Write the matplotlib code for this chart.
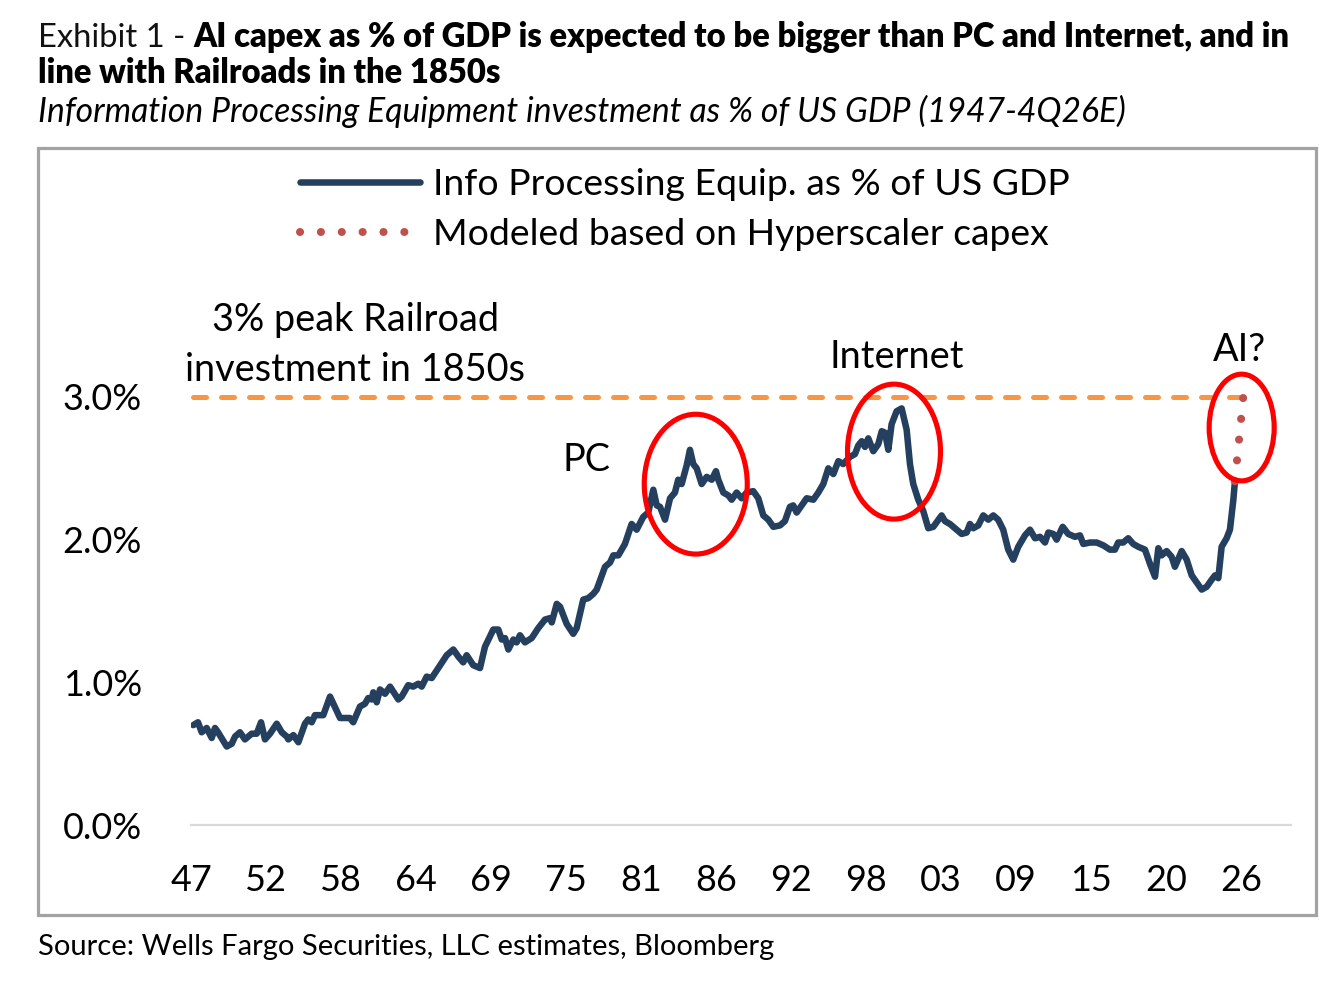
import numpy as np
import matplotlib
matplotlib.use('Agg')
import matplotlib.pyplot as plt
from matplotlib.patches import Ellipse, Rectangle

# ---------------- data ----------------
years = [1947.17, 1947.53, 1947.81, 1948.19, 1948.57, 1948.82, 1949.05, 1949.71, 1950.09, 1950.34,
         1950.71, 1951.09, 1951.60, 1951.98, 1952.31, 1952.61, 1952.99, 1953.50, 1953.88, 1954.26,
         1954.38, 1954.76, 1955.14, 1955.64, 1955.89, 1956.15, 1956.40, 1957.03, 1957.54, 1958.30,
         1959.05, 1959.30, 1959.81, 1960.19, 1960.44, 1960.70, 1960.82, 1961.08, 1961.33, 1961.71,
         1962.09, 1962.72, 1962.97, 1963.47, 1963.85, 1964.23, 1964.49, 1964.87, 1965.25, 1965.75,
         1966.39, 1966.89, 1967.27, 1967.64, 1967.90, 1968.40, 1968.91, 1969.29, 1969.92, 1970.30,
         1970.56, 1970.81, 1971.06, 1971.44, 1971.69, 1971.94, 1972.32, 1972.83, 1973.33, 1973.84,
         1974.22, 1974.35, 1974.73, 1974.98, 1975.48, 1975.98, 1976.24, 1976.74, 1977.12, 1977.50,
         1977.76, 1978.39, 1978.77, 1979.02, 1979.40, 1979.90, 1980.41, 1980.79, 1981.29, 1981.67,
         1982.05, 1982.31, 1982.56, 1982.94, 1983.32, 1983.69, 1983.94, 1984.20, 1984.58, 1984.83,
         1985.08, 1985.34, 1985.72, 1986.10, 1986.48, 1986.80, 1986.98, 1987.36, 1987.74, 1987.99,
         1988.37, 1988.75, 1989.13, 1989.63, 1990.01, 1990.39, 1990.77, 1991.15, 1991.66, 1992.03,
         1992.41, 1992.66, 1992.92, 1993.30, 1993.68, 1994.18, 1994.56, 1994.94, 1995.32, 1995.70,
         1996.08, 1996.45, 1996.96, 1997.34, 1997.59, 1997.85, 1998.10, 1998.35, 1998.73, 1999.11,
         1999.37, 1999.62, 1999.87, 2000.12, 2000.50, 2000.88, 2001.26, 2001.51, 2001.76, 2002.14,
         2002.52, 2002.90, 2003.28, 2003.91, 2004.16, 2004.54, 2005.05, 2005.43, 2005.81, 2006.06,
         2006.31, 2006.69, 2007.07, 2007.45, 2007.83, 2008.20, 2008.58, 2008.96, 2009.34, 2009.72,
         2010.23, 2010.61, 2010.99, 2011.37, 2011.75, 2012.00, 2012.38, 2012.63, 2013.09, 2013.51,
         2014.02, 2014.40, 2014.65, 2015.16, 2015.67, 2016.17, 2016.67, 2017.05, 2017.30, 2017.68,
         2018.06, 2018.44, 2018.82, 2019.33, 2019.71, 2020.09, 2020.34, 2020.59, 2020.97, 2021.35,
         2021.60, 2022.11, 2022.49, 2022.87, 2023.25, 2023.63, 2024.01, 2024.39, 2024.64, 2024.89,
         2025.14, 2025.52, 2025.77, 2026.03, 2026.15]
share = [0.70, 0.72, 0.65, 0.68, 0.61, 0.68, 0.65, 0.55, 0.57, 0.62,
         0.65, 0.60, 0.64, 0.64, 0.72, 0.60, 0.64, 0.71, 0.65, 0.62,
         0.60, 0.63, 0.58, 0.71, 0.74, 0.72, 0.77, 0.77, 0.90, 0.75,
         0.75, 0.72, 0.83, 0.85, 0.89, 0.88, 0.93, 0.86, 0.95, 0.92,
         0.97, 0.88, 0.90, 0.98, 0.97, 0.99, 0.97, 1.04, 1.03, 1.10,
         1.19, 1.23, 1.18, 1.14, 1.19, 1.12, 1.10, 1.25, 1.37, 1.37,
         1.30, 1.31, 1.23, 1.30, 1.28, 1.33, 1.28, 1.31, 1.38, 1.44,
         1.45, 1.42, 1.55, 1.53, 1.41, 1.34, 1.38, 1.58, 1.59, 1.62,
         1.65, 1.81, 1.84, 1.89, 1.89, 1.97, 2.11, 2.07, 2.16, 2.19,
         2.35, 2.24, 2.23, 2.14, 2.29, 2.33, 2.42, 2.39, 2.52, 2.63,
         2.53, 2.50, 2.39, 2.44, 2.42, 2.48, 2.42, 2.33, 2.31, 2.28,
         2.33, 2.29, 2.33, 2.34, 2.29, 2.17, 2.14, 2.09, 2.10, 2.13,
         2.23, 2.24, 2.19, 2.24, 2.29, 2.28, 2.33, 2.39, 2.50, 2.46,
         2.55, 2.53, 2.58, 2.60, 2.66, 2.69, 2.65, 2.71, 2.62, 2.67,
         2.76, 2.75, 2.63, 2.81, 2.90, 2.92, 2.77, 2.53, 2.39, 2.28,
         2.20, 2.08, 2.09, 2.17, 2.13, 2.11, 2.07, 2.04, 2.05, 2.11,
         2.08, 2.10, 2.17, 2.14, 2.17, 2.14, 2.07, 1.93, 1.86, 1.95,
         2.03, 2.07, 2.01, 2.02, 1.98, 2.05, 2.04, 2.00, 2.09, 2.04,
         2.02, 2.03, 1.97, 1.98, 1.98, 1.96, 1.93, 1.93, 1.98, 1.98,
         2.01, 1.97, 1.95, 1.93, 1.83, 1.74, 1.94, 1.89, 1.92, 1.88,
         1.81, 1.92, 1.86, 1.75, 1.70, 1.65, 1.67, 1.72, 1.75, 1.73,
         1.95, 2.01, 2.07, 2.28, 2.41]
model_years = [2026.15, 2026.31, 2026.46, 2026.62, 2026.78]
model_share = [2.41, 2.56, 2.70, 2.85, 3.00]
rail_peak = 3.0
x_tick_labels = ['47', '52', '58', '64', '69', '75', '81', '86', '92', '98',
                 '03', '09', '15', '20', '26']
y_ticks = [0, 1, 2, 3]
y_tick_labels = ['0.0%', '1.0%', '2.0%', '3.0%']
legend_labels = ['Info Processing Equip. as % of US GDP', 'Modeled based on Hyperscaler capex']
annotations = ['3% peak Railroad', 'investment in 1850s', 'PC', 'Internet', 'AI?']

title_regular = 'Exhibit 1 - '
title_bold_1 = 'AI capex as % of GDP is expected to be bigger than PC and Internet, and in'
title_bold_2 = 'line with Railroads in the 1850s'
subtitle = 'Information Processing Equipment investment as % of US GDP (1947-4Q26E)'
source = 'Source: Wells Fargo Securities, LLC estimates, Bloomberg'

# ---------------- layout helpers ----------------
W, H = 1342, 988
FONT = 'Lato'
plt.rcParams['font.family'] = [FONT, 'DejaVu Sans']

fig = plt.figure(figsize=(W / 100, H / 100), dpi=100)
fig.patch.set_facecolor('white')


def fx(px):
    return px / W


def fy(py):
    return 1 - py / H


PT = 100 / 72.0  # pixels per point
renderer = fig.canvas.get_renderer()


def size_for(s, target_px, **kw):
    t = fig.text(0, 0, s, fontsize=100, **kw)
    w = t.get_window_extent(renderer).width
    t.remove()
    return 100 * target_px / w


# ---------------- axes ----------------
ax = fig.add_axes([fx(191), fy(825), 1100 / W, 3.5 * 142.67 / H])
ax.set_xlim(1947, 2030.4)
ax.set_ylim(0, 3.5)
ax.set_facecolor('none')
for s in ['top', 'right', 'left']:
    ax.spines[s].set_visible(False)
ax.spines['bottom'].set_color('#D9D9D9')
ax.spines['bottom'].set_linewidth(1.6)

line_main, = ax.plot(years, share, color='#25405F', lw=4.7,
                     solid_joinstyle='round', solid_capstyle='round', zorder=3)
ax.plot([years[0], model_years[-1]], [rail_peak, rail_peak], color='#F79646', lw=3.6,
        linestyle=(0, (2.6, 3.0)), dash_capstyle='round', zorder=2)
line_model, = ax.plot(model_years, model_share, color='#C0504D', lw=5.8,
                      linestyle=(0, (0.01, 2.58)), dash_capstyle='round', zorder=4)

for (cx, cy, ew, eh) in [(1985.27, 2.389, 7.81, 0.98),
                         (2000.30, 2.617, 7.05, 0.946),
                         (2026.66, 2.786, 4.93, 0.748)]:
    ax.add_patch(Ellipse((cx, cy), ew, eh, fill=False, edgecolor='#FF0000',
                         lw=3.7, zorder=5, clip_on=False))

# ticks
tick_fs = size_for('3.0%', 79)
ax.set_yticks(y_ticks)
ax.set_yticklabels(y_tick_labels)
ax.set_xticks(np.linspace(1947, 2026.6, len(x_tick_labels)))
ax.set_xticklabels(x_tick_labels)
ax.tick_params(axis='y', length=0, pad=49 / PT, labelsize=tick_fs, colors='black')
ax.tick_params(axis='x', length=0, pad=39 / PT, labelsize=tick_fs, colors='black')

# legend
leg_fs = size_for(legend_labels[0], 637)
leg_px = leg_fs * PT
leg = ax.legend([line_main, line_model], legend_labels, loc='upper left',
                bbox_to_anchor=(fx(300), fy(168)), bbox_transform=fig.transFigure,
                frameon=False, borderpad=0, borderaxespad=0,
                handlelength=120 / leg_px, handletextpad=13 / leg_px,
                labelspacing=0.46, fontsize=leg_fs)

# annotations
ann_fs = size_for(annotations[1], 340)
fig.text(fx(355), fy(331), annotations[0], ha='center', va='baseline', fontsize=ann_fs)
fig.text(fx(355), fy(381), annotations[1], ha='center', va='baseline', fontsize=ann_fs)
fig.text(fx(586), fy(471), annotations[2], ha='center', va='baseline', fontsize=ann_fs)
fig.text(fx(897), fy(368), annotations[3], ha='center', va='baseline', fontsize=ann_fs)
fig.text(fx(1239), fy(361), annotations[4], ha='center', va='baseline', fontsize=ann_fs)

# frame box
fig.patches.append(Rectangle((fx(38), fy(915)), (1316 - 38) / W, (915 - 148) / H,
                             fill=False, edgecolor='#A3A3A3', lw=2.3,
                             transform=fig.transFigure, figure=fig))

# titles
t_r = fig.text(0, 0, title_regular, fontsize=100, fontweight='normal')
t_b = fig.text(0, 0, title_bold_1, fontsize=100, fontweight='heavy')
wsum = t_r.get_window_extent(renderer).width + t_b.get_window_extent(renderer).width
t_r.remove()
t_b.remove()
title_fs = 100 * 1252 / wsum

t1 = fig.text(fx(38), fy(53), title_regular, fontsize=title_fs, fontweight='normal',
              color='#111111', va='bottom', ha='left')
ax.annotate(title_bold_1, xy=(1, 0), xycoords=t1, va='bottom', ha='left',
            fontsize=title_fs, fontweight='heavy', annotation_clip=False)
fig.text(fx(38), fy(83), title_bold_2, fontsize=title_fs, fontweight='heavy',
         va='baseline', ha='left')

sub_fs = size_for(subtitle, 1087, style='italic')
fig.text(fx(38), fy(122), subtitle, fontsize=sub_fs, style='italic', va='baseline', ha='left')

src_fs = size_for(source, 734)
fig.text(fx(38), fy(955), source, fontsize=src_fs, va='baseline', ha='left')

fig.savefig('out.png', dpi=100, facecolor='white')
